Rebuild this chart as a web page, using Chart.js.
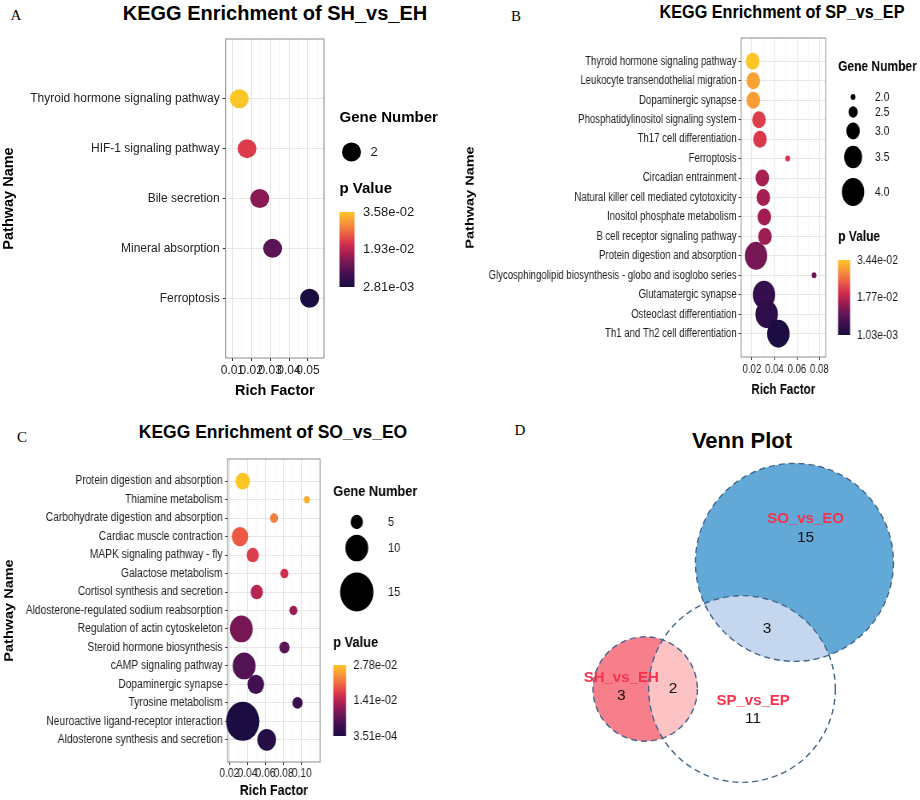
<!DOCTYPE html>
<html>
<head>
<meta charset="utf-8">
<title>KEGG enrichment and Venn plot</title>
<script src="https://cdn.jsdelivr.net/npm/chart.js@4.4.1/dist/chart.umd.min.js"></script>
<style>
  body { margin: 0; background: #fff; }
  #page { position: relative; width: 920px; height: 800px; overflow: hidden; font-family: "Liberation Sans", Arial, sans-serif; }
  .panel { position: absolute; transform-origin: 0 0; }
  .panel canvas { display: block; }
  .ttl { position: absolute; font-weight: bold; white-space: nowrap; color: #000; line-height: 1; }
  .tag { position: absolute; font-family: "Liberation Serif", "DejaVu Serif", serif; font-size: 15px; line-height: 1; transform: translate(-50%, -50%); }
</style>
</head>
<body>
<div id="page">
  <div class="tag" style="left:16px;top:15px">A</div>
  <div class="tag" style="left:516px;top:16px">B</div>
  <div class="tag" style="left:22px;top:437px">C</div>
  <div class="tag" style="left:520px;top:430px">D</div>
  <div class="ttl" style="left:275px;top:13px;font-size:20px;transform:translate(-50%,-50%)">KEGG Enrichment of SH_vs_EH</div>
  <div class="ttl" style="left:782px;top:12px;font-size:18px;transform:translate(-50%,-50%) scaleX(0.9)">KEGG Enrichment of SP_vs_EP</div>
  <div class="ttl" style="left:273px;top:433px;font-size:17.5px;transform:translate(-50%,-50%)">KEGG Enrichment of SO_vs_EO</div>
  <div class="ttl" style="left:742px;top:441px;font-size:22px;transform:translate(-50%,-50%)">Venn Plot</div>
</div>
<script>
Chart.defaults.font.family = '"Liberation Sans", Arial, sans-serif';

// SH_vs_EH
const pathwaysA = ["Thyroid hormone signaling pathway", "HIF-1 signaling pathway", "Bile secretion",
  "Mineral absorption", "Ferroptosis"];
const richA = [0.0137, 0.0178, 0.0245, 0.0313, 0.0509];
const genesA = [2, 2, 2, 2, 2];
const pA = [0.0358, 0.0231, 0.0152, 0.0110, 0.00281];
const ticksA = [0.01, 0.02, 0.03, 0.04, 0.05];
const sizeBreaksA = [2];

// SP_vs_EP
const pathwaysB = ["Thyroid hormone signaling pathway", "Leukocyte transendothelial migration",
  "Dopaminergic synapse", "Phosphatidylinositol signaling system", "Th17 cell differentiation",
  "Ferroptosis", "Circadian entrainment", "Natural killer cell mediated cytotoxicity",
  "Inositol phosphate metabolism", "B cell receptor signaling pathway", "Protein digestion and absorption",
  "Glycosphingolipid biosynthesis - globo and isoglobo series", "Glutamatergic synapse",
  "Osteoclast differentiation", "Th1 and Th2 cell differentiation"];
const richB = [0.0206, 0.0212, 0.0212, 0.0262, 0.0271, 0.0518, 0.0292, 0.0301, 0.0310, 0.0316,
  0.0236, 0.0753, 0.0307, 0.0331, 0.0435];
const genesB = [3, 3, 3, 3, 3, 2, 3, 3, 3, 3, 4, 2, 4, 4, 4];
const pB = [0.0344, 0.0310, 0.0305, 0.0217, 0.0212, 0.0204, 0.0162, 0.0159, 0.0156, 0.0153,
  0.0120, 0.0110, 0.0050, 0.0037, 0.00103];
const ticksB = [0.02, 0.04, 0.06, 0.08];
const sizeBreaksB = [2.0, 2.5, 3.0, 3.5, 4.0];

// SO_vs_EO
const pathwaysC = ["Protein digestion and absorption", "Thiamine metabolism", "Carbohydrate digestion and absorption",
  "Cardiac muscle contraction", "MAPK signaling pathway - fly", "Galactose metabolism",
  "Cortisol synthesis and secretion", "Aldosterone-regulated sodium reabsorption", "Regulation of actin cytoskeleton",
  "Steroid hormone biosynthesis", "cAMP signaling pathway", "Dopaminergic synapse", "Tyrosine metabolism",
  "Neuroactive ligand-receptor interaction", "Aldosterone synthesis and secretion"];
const richC = [0.0348, 0.1056, 0.0694, 0.0318, 0.0459, 0.0809, 0.0503, 0.0908, 0.0333, 0.0809,
  0.0363, 0.0492, 0.0953, 0.0348, 0.0613];
const genesC = [6, 2, 3, 7, 5, 3, 5, 3, 10, 4, 10, 7, 4, 15, 8];
const pC = [0.0278, 0.0259, 0.0223, 0.0196, 0.0174, 0.0158, 0.0141, 0.0119, 0.0094, 0.0072,
  0.0064, 0.0050, 0.0042, 0.000351, 0.0017];
const ticksC = [0.02, 0.04, 0.06, 0.08, 0.10];
const sizeBreaksC = [5, 10, 15];

// Venn
const vennSets = ["SO_vs_EO", "SP_vs_EP", "SH_vs_EH"];
const vennOnly = [15, 11, 3];
const vennPairs = [[0, 1], [2, 1]];
const vennPairCounts = [3, 2];

const page = document.getElementById("page");
const FONT = '"Liberation Sans", Arial, sans-serif';

// low p -> dark, high p -> yellow
const STOPS = [
  [0.00, [27, 12, 65]],
  [0.15, [60, 15, 80]],
  [0.30, [108, 22, 86]],
  [0.45, [166, 30, 81]],
  [0.58, [213, 48, 78]],
  [0.70, [236, 90, 69]],
  [0.85, [247, 146, 58]],
  [1.00, [254, 197, 39]]
];
function colorAt(t) {
  t = Math.max(0, Math.min(1, t));
  for (let i = 1; i < STOPS.length; i++) {
    if (t <= STOPS[i][0]) {
      const [t0, c0] = STOPS[i - 1], [t1, c1] = STOPS[i];
      const f = (t - t0) / (t1 - t0);
      const c = c0.map((v, k) => Math.round(v + (c1[k] - v) * f));
      return `rgb(${c[0]},${c[1]},${c[2]})`;
    }
  }
  return "rgb(254,197,39)";
}

function sci(v) {
  const [m, e] = v.toExponential(2).split("e");
  const n = parseInt(e, 10);
  return m + "e" + (n < 0 ? "-" : "+") + String(Math.abs(n)).padStart(2, "0");
}

function xTickList(major, lo, hi) {
  const half = (major[1] - major[0]) / 2;
  const out = [];
  for (let k = -2; k <= 2 * (major.length - 1) + 2; k++) {
    const v = major[0] + k * half;
    if (v < lo - 1e-9 || v > hi + 1e-9) continue;
    const isMajor = k >= 0 && k % 2 === 0 && k <= 2 * (major.length - 1);
    out.push({ value: v, minor: !isMajor });
  }
  return out;
}

const boxPlugin = {
  id: "panelBox",
  beforeDatasetsDraw(chart) {
    const { ctx, chartArea: a } = chart;
    ctx.save();
    ctx.strokeStyle = "#8a8a8a";
    ctx.lineWidth = 1;
    ctx.strokeRect(a.left, a.top, a.right - a.left, a.bottom - a.top);
    ctx.restore();
  }
};

function legendPlugin(cfg) {
  return {
    id: "geneLegend",
    afterDraw(chart) {
      const { ctx, chartArea: a } = chart;
      const L = cfg.leg;
      const x0 = a.right + 15.5;
      const pmin = Math.min(...cfg.pvals), pmax = Math.max(...cfg.pvals);
      ctx.save();
      ctx.textBaseline = "middle";
      ctx.textAlign = "left";
      ctx.fillStyle = "#000";
      ctx.font = "bold 15px " + FONT;
      ctx.fillText("Gene Number", x0, L.gnY);
      ctx.font = "13px " + FONT;
      cfg.breaks.forEach((b, i) => {
        ctx.fillStyle = "#000";
        ctx.beginPath();
        ctx.arc(x0 + L.dotX, L.dotY[i], cfg.radius(b), 0, Math.PI * 2);
        ctx.fill();
        ctx.fillStyle = "#1a1a1a";
        ctx.fillText(cfg.breakText(b), x0 + L.labX, L.dotY[i]);
      });
      ctx.fillStyle = "#000";
      ctx.font = "bold 15px " + FONT;
      ctx.fillText("p Value", x0, L.pvY);
      const g = ctx.createLinearGradient(0, L.barBot, 0, L.barTop);
      STOPS.forEach(s => g.addColorStop(s[0], colorAt(s[0])));
      ctx.fillStyle = g;
      ctx.fillRect(x0, L.barTop, 15, L.barBot - L.barTop);
      ctx.font = "13px " + FONT;
      ctx.fillStyle = "#1a1a1a";
      const vals = [pmax, (pmin + pmax) / 2, pmin];
      vals.forEach(v => {
        const y = L.barBot - (v - pmin) / (pmax - pmin) * (L.barBot - L.barTop);
        ctx.fillText(sci(v), x0 + 23.5, y);
      });
      ctx.restore();
    }
  };
}

function bubblePanel(cfg) {
  const W = Math.round(460 / cfg.sx), H = 400;
  const sx = 460 / W;
  const L = (cfg.area.l - cfg.left) / sx, R = (cfg.area.r - cfg.left) / sx;
  const T = cfg.area.t - cfg.top, B = cfg.area.b - cfg.top;
  const wrap = document.createElement("div");
  wrap.className = "panel";
  wrap.style.left = cfg.left + "px";
  wrap.style.top = cfg.top + "px";
  wrap.style.transform = `scaleX(${sx})`;
  const cv = document.createElement("canvas");
  cv.width = W; cv.height = H;
  wrap.appendChild(cv);
  page.appendChild(wrap);

  const pmin = Math.min(...cfg.pvals), pmax = Math.max(...cfg.pvals);
  const xt = xTickList(cfg.ticks, cfg.xmin, cfg.xmax);
  const n = cfg.labels.length;

  new Chart(cv, {
    type: "bubble",
    data: {
      datasets: [{
        data: cfg.rich.map((x, i) => ({ x: x, y: i, r: cfg.radius(cfg.genes[i]) })),
        backgroundColor: cfg.pvals.map(p => colorAt((p - pmin) / (pmax - pmin))),
        borderWidth: 0,
        hoverBorderWidth: 0,
        clip: false
      }]
    },
    options: {
      responsive: false,
      animation: false,
      events: [],
      layout: { padding: { left: 0, top: T, right: W - R, bottom: 0 } },
      plugins: { legend: { display: false }, tooltip: { enabled: false } },
      scales: {
        x: {
          type: "linear",
          min: cfg.xmin,
          max: cfg.xmax,
          afterBuildTicks: s => { s.ticks = xt.map(t => ({ value: t.value, minor: t.minor })); },
          afterFit: s => { s.height = H - B; },
          ticks: {
            autoSkip: false,
            maxRotation: 0,
            padding: cfg.xTickPad,
            color: "#222",
            font: { size: 12 },
            callback: (v, i, t) => (t[i].minor ? "" : v.toFixed(2))
          },
          grid: {
            color: c => (c.tick && c.tick.minor ? "#f1f1f1" : "#e6e6e6"),
            lineWidth: c => (c.tick && c.tick.minor ? 0.6 : 1),
            tickLength: 3,
            tickColor: c => (c.tick && c.tick.minor ? "rgba(0,0,0,0)" : "#333")
          },
          border: { display: false },
          title: {
            display: true, text: "Rich Factor", color: "#000",
            font: { size: 14.5, weight: "bold" },
            padding: { top: 0, bottom: cfg.xTitlePad }
          }
        },
        y: {
          type: "linear",
          reverse: true,
          min: -1.2,
          max: n - 1 + 1.2,
          afterBuildTicks: s => { s.ticks = cfg.labels.map((_, i) => ({ value: i })); },
          afterFit: s => { s.width = L; },
          ticks: {
            autoSkip: false,
            padding: cfg.yTickPad,
            color: "#222",
            font: { size: 12 },
            callback: (v, i) => cfg.labels[i]
          },
          grid: { color: "#e6e6e6", lineWidth: 1, tickLength: 3, tickColor: "#333" },
          border: { display: false },
          title: {
            display: true, text: "Pathway Name", color: "#000",
            font: { size: 14.5, weight: "bold" },
            padding: { top: cfg.yTitlePad, bottom: 0 }
          }
        }
      }
    },
    plugins: [boxPlugin, legendPlugin(cfg)]
  });
}

bubblePanel({
  left: 0, top: 0, sx: 1,
  area: { l: 225.7, t: 39, r: 324, b: 358 },
  labels: pathwaysA, rich: richA, genes: genesA, pvals: pA, ticks: ticksA,
  xmin: 0.0065, xmax: 0.0585,
  radius: g => 4.75 * g,
  breaks: sizeBreaksA, breakText: b => String(b),
  leg: { gnY: 118, dotX: 12, labX: 31, dotY: [152], pvY: 189, barTop: 212, barBot: 287 },
  yTitlePad: 0, xTitlePad: 0.3, xTickPad: 2, yTickPad: 3
});

bubblePanel({
  left: 460, top: 0, sx: 0.8,
  area: { l: 741, t: 38, r: 825.7, b: 357 },
  labels: pathwaysB, rich: richB, genes: genesB, pvals: pB, ticks: ticksB,
  xmin: 0.0102, xmax: 0.0857,
  radius: g => 3 + 5.5 * (g - 2),
  breaks: sizeBreaksB, breakText: b => b.toFixed(1),
  leg: { gnY: 67, dotX: 18.75, labX: 46, dotY: [97, 112, 131, 157, 192], pvY: 237, barTop: 260, barBot: 335 },
  yTitlePad: 3.8, xTitlePad: 1.3, xTickPad: 2, yTickPad: 2.4
});

bubblePanel({
  left: 0, top: 400, sx: 0.855,
  area: { l: 227.7, t: 459, r: 320, b: 762 },
  labels: pathwaysC, rich: richC, genes: genesC, pvals: pC, ticks: ticksC,
  xmin: 0.0182, xmax: 0.1202,
  radius: g => 1.07 + 1.23 * g,
  breaks: sizeBreaksC, breakText: b => String(b),
  leg: { gnY: 92, dotX: 27.5, labX: 64, dotY: [122, 148, 192], pvY: 243, barTop: 265, barBot: 336 },
  yTitlePad: 1.8, xTitlePad: 0, xTickPad: 1, yTickPad: 3
});

// ---------- Venn (area proportional circles) ----------
function lensArea(r1, r2, d) {
  if (d >= r1 + r2) return 0;
  if (d <= Math.abs(r1 - r2)) return Math.PI * Math.min(r1, r2) ** 2;
  const a = r1 * r1 * Math.acos((d * d + r1 * r1 - r2 * r2) / (2 * d * r1));
  const b = r2 * r2 * Math.acos((d * d + r2 * r2 - r1 * r1) / (2 * d * r2));
  const c = 0.5 * Math.sqrt((-d + r1 + r2) * (d + r1 - r2) * (d - r1 + r2) * (d + r1 + r2));
  return a + b - c;
}
function solveDist(r1, r2, area) {
  let lo = Math.abs(r1 - r2), hi = r1 + r2;
  for (let i = 0; i < 60; i++) {
    const mid = (lo + hi) / 2;
    if (lensArea(r1, r2, mid) > area) lo = mid; else hi = mid;
  }
  return (lo + hi) / 2;
}

const VENN = {
  anchor: 1,
  angle: { 0: 67.5, 2: 180 },
  pxPerUnit: 41.36,
  origin: [282, 289],
  fill: ["#63a9d8", null, "#f67f8b"],
  lensFill: ["#c4d7ee", "#fdc2c3"],
  nameOff: [[0.27, 1.04], [0.27, -0.29], [-0.58, 0.27]],
  countDy: -0.44
};

const totals = vennOnly.map((v, i) =>
  v + vennPairs.reduce((s, p, k) => s + (p.includes(i) ? vennPairCounts[k] : 0), 0));
const circles = totals.map(t => ({ x: 0, y: 0, r: Math.sqrt(t / Math.PI) }));
vennPairs.forEach((p, k) => {
  const other = p[0] === VENN.anchor ? p[1] : p[0];
  const d = solveDist(circles[other].r, circles[VENN.anchor].r, vennPairCounts[k]);
  const ang = VENN.angle[other] * Math.PI / 180;
  circles[other].x = circles[VENN.anchor].x + d * Math.cos(ang);
  circles[other].y = circles[VENN.anchor].y + d * Math.sin(ang);
});

const vennPlugin = {
  id: "venn",
  afterDatasetsDraw(chart) {
    const { ctx, scales: { x: xs, y: ys } } = chart;
    const px = c => ({
      x: xs.getPixelForValue(c.x),
      y: ys.getPixelForValue(c.y),
      r: xs.getPixelForValue(c.x + c.r) - xs.getPixelForValue(c.x)
    });
    const P = circles.map(px);
    const path = c => { ctx.beginPath(); ctx.arc(c.x, c.y, c.r, 0, Math.PI * 2); };
    const sp = P[VENN.anchor];

    ctx.save();
    vennPairs.forEach((p, k) => {
      const other = p[0] === VENN.anchor ? p[1] : p[0];
      ctx.fillStyle = VENN.fill[other];
      path(P[other]); ctx.fill();
      ctx.save();
      path(P[other]); ctx.clip();
      ctx.fillStyle = VENN.lensFill[k];
      path(sp); ctx.fill();
      ctx.restore();
    });

    ctx.setLineDash([6, 4]);
    ctx.lineWidth = 1.4;
    ctx.strokeStyle = "#44678c";
    P.forEach(c => { path(c); ctx.stroke(); });
    ctx.setLineDash([]);

    ctx.textAlign = "center";
    ctx.textBaseline = "middle";
    circles.forEach((c, i) => {
      const o = VENN.nameOff[i];
      ctx.font = "bold 15px " + FONT;
      ctx.fillStyle = "#f5334f";
      ctx.fillText(vennSets[i], xs.getPixelForValue(c.x + o[0]), ys.getPixelForValue(c.y + o[1]));
      ctx.font = "15.5px " + FONT;
      ctx.fillStyle = "#111";
      ctx.fillText(String(vennOnly[i]), xs.getPixelForValue(c.x + o[0]), ys.getPixelForValue(c.y + o[1] + VENN.countDy));
    });
    ctx.font = "15.5px " + FONT;
    vennPairs.forEach((p, k) => {
      const a = circles[p[0]], b = circles[p[1]];
      const d = Math.hypot(b.x - a.x, b.y - a.y);
      const t = (d - b.r + a.r) / 2 / d;
      const mx = a.x + (b.x - a.x) * t, my = a.y + (b.y - a.y) * t;
      ctx.fillStyle = "#111";
      ctx.fillText(String(vennPairCounts[k]), xs.getPixelForValue(mx), ys.getPixelForValue(my));
    });
    ctx.restore();
  }
};

(function () {
  const wrap = document.createElement("div");
  wrap.className = "panel";
  wrap.style.left = "460px";
  wrap.style.top = "400px";
  const cv = document.createElement("canvas");
  cv.width = 460; cv.height = 400;
  wrap.appendChild(cv);
  page.appendChild(wrap);
  const u = VENN.pxPerUnit, [ox, oy] = VENN.origin;
  new Chart(cv, {
    type: "scatter",
    data: { datasets: [{ data: circles.map(c => ({ x: c.x, y: c.y })), pointRadius: 0 }] },
    options: {
      responsive: false,
      animation: false,
      events: [],
      layout: { padding: 0 },
      plugins: { legend: { display: false }, tooltip: { enabled: false } },
      scales: {
        x: { type: "linear", display: false, min: -ox / u, max: (460 - ox) / u },
        y: { type: "linear", display: false, min: -(400 - oy) / u, max: oy / u }
      }
    },
    plugins: [vennPlugin]
  });
})();
</script>
</body>
</html>
